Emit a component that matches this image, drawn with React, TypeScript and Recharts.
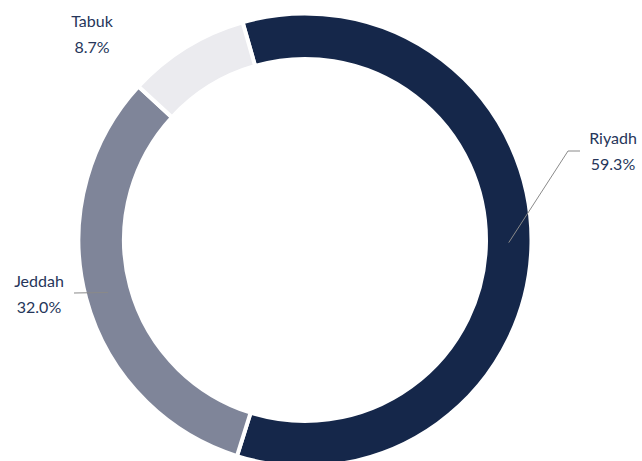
import { PieChart, Pie, Cell } from "recharts";

const REGIONS = ["Riyadh", "Jeddah", "Tabuk"];
const SHARES = [59.3, 32.0, 8.7];
const COLORS = ["#15274a", "#7f8599", "#ebebef"];

// label placement relative to the pie centre: elbow, line end, text x, name baseline
const LABEL_LAYOUT = [
  { elbow: [263, -89], end: [275, -89], textX: 308, baseY: -96, showLine: true },
  { elbow: [-231, 53], end: [-231, 53], textX: -266, baseY: 47, showLine: true },
  { elbow: [0, 0], end: [0, 0], textX: -213, baseY: -213, showLine: false },
];

const data = REGIONS.map((name, i) => ({ name, value: SHARES[i] }));
const RAD = Math.PI / 180;
const FONT = "Lato, 'Noto Sans', sans-serif";

function renderLabel(props: any) {
  const { cx, cy, midAngle, innerRadius, outerRadius, index, value, name } = props;
  const r = (innerRadius + outerRadius) / 2;
  const ax = cx + r * Math.cos(-midAngle * RAD);
  const ay = cy + r * Math.sin(-midAngle * RAD);
  const l = LABEL_LAYOUT[index];
  const tx = cx + l.textX;
  const ty = cy + l.baseY;
  return (
    <g key={`lbl-${index}`}>
      {l.showLine && (
        <polyline
          points={`${ax},${ay} ${cx + l.elbow[0]},${cy + l.elbow[1]} ${cx + l.end[0]},${cy + l.end[1]}`}
          fill="none" stroke="#8a8a8a" strokeWidth={1}
        />
      )}
      <text x={tx} y={ty} textAnchor="middle" fontFamily={FONT} fontSize={16} fill="#26365a">{name}</text>
      <text x={tx} y={ty + 26} textAnchor="middle" fontFamily={FONT} fontSize={16} fill="#26365a">
        {`${Number(value).toFixed(1)}%`}
      </text>
    </g>
  );
}

export default function App() {
  return (
    <div style={{ position: "absolute", left: 0, top: 0, width: 642, height: 461, background: "#fff" }}>
      <PieChart width={642} height={461} margin={{ top: 0, right: 0, bottom: 0, left: 0 }}>
        <Pie
          data={data} dataKey="value" nameKey="name"
          cx={305} cy={240} innerRadius={181} outerRadius={226.5}
          startAngle={106} endAngle={-254}
          stroke="#fff" strokeWidth={4}
          label={renderLabel} labelLine={false}
          isAnimationActive={false}
        >
          {data.map((d, i) => <Cell key={d.name} fill={COLORS[i]} />)}
        </Pie>
      </PieChart>
    </div>
  );
}
